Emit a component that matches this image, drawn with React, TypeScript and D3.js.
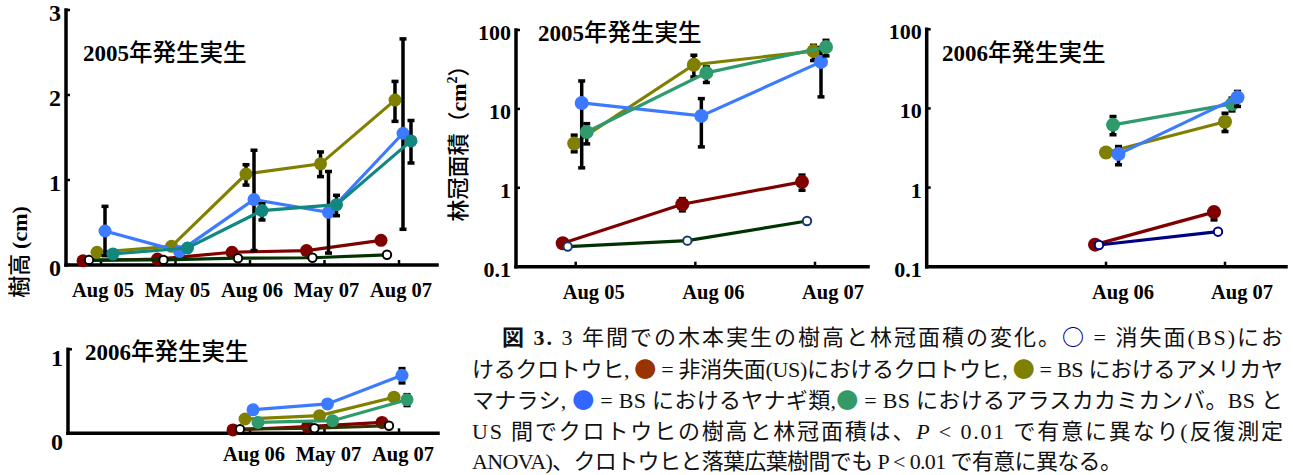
import React from 'react';
import * as d3 from 'd3';

type Val = number | null;

// x categories
const heightDates = ['Aug 05', 'May 05', 'Aug 06', 'May 07', 'Aug 07'];
const heightDates06 = ['Aug 06', 'May 07', 'Aug 07'];
const areaDates = ['Aug 05', 'Aug 06', 'Aug 07'];
const areaDates06 = ['Aug 06', 'Aug 07'];

// tick values
const heightTicks05 = [0, 1, 2, 3];
const heightTicks06 = [0, 1];
const areaTicks = [0.1, 1, 10, 100];

// 2005 cohort, seedling height (cm)
const h05Bs = [0.06, 0.06, 0.08, 0.085, 0.12];
const h05Us = [0.05, 0.07, 0.15, 0.17, 0.29];
const h05Aspen = [0.15, 0.22, 1.07, 1.19, 1.94];
const h05AspenHi: Val[] = [null, null, 1.18, 1.33, 2.16];
const h05AspenLo: Val[] = [null, null, 0.94, 1.04, 1.69];
const h05Willow = [0.4, 0.16, 0.77, 0.62, 1.55];
const h05WillowHi: Val[] = [0.69, null, 1.35, 1.1, 2.66];
const h05WillowLo: Val[] = [0.11, null, 0.17, 0.14, 0.42];
const h05Birch = [0.13, 0.2, 0.64, 0.71, 1.46];
const h05BirchHi: Val[] = [null, null, 0.72, 0.82, 1.7];
const h05BirchLo: Val[] = [null, null, 0.53, 0.58, 1.2];

// 2006 cohort, seedling height (cm)
const h06Bs = [0.05, 0.06, 0.09];
const h06Us = [0.04, 0.08, 0.13];
const h06Aspen = [0.17, 0.21, 0.43];
const h06Willow = [0.28, 0.35, 0.69];
const h06WillowHi: Val[] = [null, null, 0.77];
const h06WillowLo: Val[] = [null, null, 0.6];
const h06Birch = [0.13, 0.15, 0.4];
const h06BirchHi: Val[] = [null, null, 0.46];
const h06BirchLo: Val[] = [null, null, 0.33];

// 2005 cohort, crown area (cm2)
const a05Bs = [0.18, 0.214, 0.38];
const a05Us = [0.198, 0.62, 1.19];
const a05UsHi: Val[] = [null, 0.73, 1.45];
const a05UsLo: Val[] = [null, 0.51, 0.93];
const a05Aspen = [3.65, 36.3, 54];
const a05AspenHi: Val[] = [4.65, 47.9, 64];
const a05AspenLo: Val[] = [2.86, 25.4, 41];
const a05Willow = [11.9, 8.15, 39.4];
const a05WillowHi: Val[] = [22.6, 13.5, 60];
const a05WillowLo: Val[] = [1.79, 3.3, 14.2];
const a05Birch = [5.1, 28.6, 61];
const a05BirchHi: Val[] = [6.5, 34, 74];
const a05BirchLo: Val[] = [3.6, 21.6, 47];

// 2006 cohort, crown area (cm2)
const a06Bs = [0.188, 0.277];
const a06Us = [0.19, 0.49];
const a06UsHi: Val[] = [null, 0.55];
const a06UsLo: Val[] = [null, 0.39];
const a06Aspen = [2.77, 6.8];
const a06AspenHi: Val[] = [null, 8.7];
const a06AspenLo: Val[] = [null, 5.1];
const a06Willow = [2.65, 13.8];
const a06WillowHi: Val[] = [3.3, 16.4];
const a06WillowLo: Val[] = [1.94, 10.6];
const a06Birch = [6.2, 11.4];
const a06BirchHi: Val[] = [7.9, 13.5];
const a06BirchLo: Val[] = [4.65, 9.3];

const serif = "'Liberation Serif', 'Times New Roman', serif";
const jp = "'Noto Sans CJK JP', sans-serif";
const mixed = "'Liberation Serif', 'Noto Sans CJK JP', serif";

const RED = '#800000';
const OLIVE = '#808000';
const BLUE = '#3c7bff';
const TEAL = '#12877f';
const GREEN = '#2f9a6b';

interface Series {
  key: string;
  values: number[];
  hi?: Val[];
  lo?: Val[];
  dx: number;
  color: string;
  line?: string;
  open?: boolean;
}

interface PanelProps {
  dates: string[];
  x: d3.ScalePoint<string>;
  y: (v: number) => number;
  series: Series[];
  r: number;
}

// lines, error bars and markers of one panel
const Marks: React.FC<PanelProps> = ({ dates, x, y, series, r }) => (
  <g>
    {series.map(s => {
      const pts = s.values.map((v, i) => [x(dates[i])! + s.dx, y(v)] as [number, number]);
      const path = d3.line()(pts) || '';
      return (
        <g key={s.key}>
          <path d={path} fill="none" stroke={s.line ?? s.color} strokeWidth={3.2} />
          {s.hi && s.lo && s.values.map((_, i) => {
            const h = s.hi![i], l = s.lo![i];
            if (h == null || l == null) return null;
            const cx = pts[i][0];
            return (
              <g key={i} stroke="#000" strokeWidth={3.5}>
                <line x1={cx} x2={cx} y1={y(h)} y2={y(l)} />
                <line x1={cx - 3.5} x2={cx + 3.5} y1={y(h)} y2={y(h)} />
                <line x1={cx - 3.5} x2={cx + 3.5} y1={y(l)} y2={y(l)} />
              </g>
            );
          })}
          {pts.map(([px, py], i) =>
            s.open ? (
              <circle key={i} cx={px} cy={py} r={4.2} fill="#fff" stroke={s.color} strokeWidth={2} />
            ) : (
              <circle key={i} cx={px} cy={py} r={r} fill={s.color} />
            )
          )}
        </g>
      );
    })}
  </g>
);

interface AxesProps {
  x0: number;
  x1: number;
  yTop: number;
  yBase: number;
  ticks: number[];
  y: (v: number) => number;
  tickFont: number;
  labelDy: number;
  xTicks: number[];
  xLabels: { text: string; x: number }[];
  xLabelY: number;
}

const Axes: React.FC<AxesProps> = ({ x0, x1, yTop, yBase, ticks, y, tickFont, labelDy, xTicks, xLabels, xLabelY }) => (
  <g>
    <line x1={x0} x2={x0} y1={yTop} y2={yBase} stroke="#000" strokeWidth={3.5} strokeLinecap="square" />
    <line x1={x0} x2={x1} y1={yBase} y2={yBase} stroke="#000" strokeWidth={3.5} strokeLinecap="square" />
    {ticks.map(t => (
      <g key={t}>
        <line x1={x0} x2={x0 + 4} y1={y(t)} y2={y(t)} stroke="#000" strokeWidth={2.5} />
        <text x={x0 - 5} y={y(t) + labelDy} textAnchor="end" fontFamily={serif} fontWeight="bold" fontSize={tickFont}>
          {d3.format('~g')(t)}
        </text>
      </g>
    ))}
    {xTicks.map((t, i) => (
      <line key={i} x1={t} x2={t} y1={yBase} y2={yBase - 5} stroke="#000" strokeWidth={2.5} />
    ))}
    {xLabels.map(l => (
      <text key={l.text} x={l.x} y={xLabelY} textAnchor="middle" fontFamily={serif} fontWeight="bold" fontSize={20.5}>
        {l.text}
      </text>
    ))}
  </g>
);

const Title: React.FC<{ x: number; y: number; year: string }> = ({ x, y, year }) => (
  <text x={x} y={y} style={{ whiteSpace: 'pre' }}>
    <tspan fontFamily={serif} fontWeight="bold" fontSize={23}>{year}</tspan>
    <tspan fontFamily={jp} fontWeight={500} fontSize={23.5}>年発生実生</tspan>
  </text>
);

const Dot: React.FC<{ c: string; ch?: string }> = ({ c, ch = '●' }) => (
  <tspan fill={c} fontFamily={jp} fontWeight={ch === '○' ? 'bold' : 'normal'}>{ch}</tspan>
);

export default function App() {
  // top-left: height, 2005 cohort
  const xH = d3.scalePoint<string>().domain(heightDates).range([105, 403]);
  const yH05 = d3.scaleLinear().domain([0, 3]).range([265, 10]);
  const yH06 = d3.scaleLinear().domain([0, 1]).range([433.3, 349.3]);

  // crown area panels
  const xA05 = d3.scalePoint<string>().domain(areaDates).range([575.7, 815]);
  const xA06 = d3.scalePoint<string>().domain(areaDates).range([987, 1225]);
  const yA05 = d3.scaleLog().domain([0.1, 100]).range([266.7, 30]);
  const yA06 = d3.scaleLog().domain([0.1, 100]).range([266.7, 29.3]);

  const h05Series: Series[] = [
    { key: 'us', values: h05Us, dx: -22, color: RED },
    { key: 'bs', values: h05Bs, dx: -16, color: '#000', line: '#003300', open: true },
    { key: 'aspen', values: h05Aspen, hi: h05AspenHi, lo: h05AspenLo, dx: -8, color: OLIVE },
    { key: 'willow', values: h05Willow, hi: h05WillowHi, lo: h05WillowLo, dx: 0, color: BLUE },
    { key: 'birch', values: h05Birch, hi: h05BirchHi, lo: h05BirchLo, dx: 8, color: TEAL },
  ];
  const h06Series: Series[] = [
    { key: 'us', values: h06Us, dx: -21, color: RED },
    { key: 'bs', values: h06Bs, dx: -14, color: '#000', line: '#333300', open: true },
    { key: 'aspen', values: h06Aspen, dx: -9, color: OLIVE },
    { key: 'willow', values: h06Willow, hi: h06WillowHi, lo: h06WillowLo, dx: -1, color: BLUE },
    { key: 'birch', values: h06Birch, hi: h06BirchHi, lo: h06BirchLo, dx: 4, color: GREEN },
  ];
  const a05Series: Series[] = [
    { key: 'us', values: a05Us, hi: a05UsHi, lo: a05UsLo, dx: -13, color: RED },
    { key: 'bs', values: a05Bs, dx: -8, color: '#123a6e', line: '#003300', open: true },
    { key: 'aspen', values: a05Aspen, hi: a05AspenHi, lo: a05AspenLo, dx: -1.5, color: OLIVE },
    { key: 'willow', values: a05Willow, hi: a05WillowHi, lo: a05WillowLo, dx: 6, color: BLUE },
    { key: 'birch', values: a05Birch, hi: a05BirchHi, lo: a05BirchLo, dx: 11, color: GREEN },
  ];
  const a06Series: Series[] = [
    { key: 'us', values: a06Us, hi: a06UsHi, lo: a06UsLo, dx: -11, color: RED },
    { key: 'bs', values: a06Bs, dx: -7, color: '#000080', line: '#000080', open: true },
    { key: 'aspen', values: a06Aspen, hi: a06AspenHi, lo: a06AspenLo, dx: 0, color: OLIVE },
    { key: 'birch', values: a06Birch, hi: a06BirchHi, lo: a06BirchLo, dx: 7, color: GREEN },
    { key: 'willow', values: a06Willow, hi: a06WillowHi, lo: a06WillowLo, dx: 12.5, color: BLUE },
  ];

  return (
    <svg width={1293} height={475} style={{ position: 'absolute', left: 0, top: 0, background: '#fff' }}>
      {/* top-left: tree height, 2005 cohort */}
      <Axes
        x0={66} x1={437} yTop={yH05(3)} yBase={yH05(0)} ticks={heightTicks05} y={yH05}
        tickFont={24} labelDy={11}
        xTicks={heightDates.map(d => xH(d)! - 4)}
        xLabels={heightDates.map(d => ({ text: d, x: xH(d)! - 2 }))}
        xLabelY={297}
      />
      <Marks dates={heightDates} x={xH} y={yH05} series={h05Series} r={6.5} />
      <Title x={83} y={61} year="2005" />
      <text transform="translate(27,252) rotate(-90)" textAnchor="middle" style={{ whiteSpace: 'pre' }}>
        <tspan fontFamily={jp} fontWeight={500} fontSize={22}>樹高 </tspan>
        <tspan fontFamily={serif} fontWeight="bold" fontSize={22}>(cm)</tspan>
      </text>

      {/* bottom-left: tree height, 2006 cohort */}
      <Axes
        x0={68} x1={438} yTop={yH06(1)} yBase={yH06(0)} ticks={heightTicks06} y={yH06}
        tickFont={24} labelDy={17}
        xTicks={heightDates06.map(d => xH(d)! - 4)}
        xLabels={heightDates06.map(d => ({ text: d, x: xH(d)! }))}
        xLabelY={461}
      />
      <Marks dates={heightDates06} x={xH} y={yH06} series={h06Series} r={6.5} />
      <Title x={85} y={360} year="2006" />

      {/* middle: crown area, 2005 cohort */}
      <Axes
        x0={516} x1={868} yTop={yA05(100)} yBase={yA05(0.1)} ticks={areaTicks} y={yA05}
        tickFont={22} labelDy={10}
        xTicks={areaDates.map(d => xA05(d)!)}
        xLabels={areaDates.map(d => ({ text: d, x: xA05(d)! + 18 }))}
        xLabelY={299}
      />
      <Marks dates={areaDates} x={xA05} y={yA05} series={a05Series} r={7} />
      <Title x={538} y={41} year="2005" />
      <text transform="translate(466,138) rotate(-90)" textAnchor="middle">
        <tspan fontFamily={jp} fontWeight={500} fontSize={22}>林冠面積（</tspan>
        <tspan fontFamily={serif} fontWeight="bold" fontSize={22}>cm</tspan>
        <tspan fontFamily={serif} fontWeight="bold" fontSize={14} dy={-9}>2</tspan>
        <tspan fontFamily={jp} fontWeight={500} fontSize={22} dy={9}>）</tspan>
      </text>

      {/* right: crown area, 2006 cohort */}
      <Axes
        x0={926.7} x1={1286} yTop={yA06(100)} yBase={yA06(0.1)} ticks={areaTicks} y={yA06}
        tickFont={22} labelDy={10}
        xTicks={areaDates06.map(d => xA06(d)!)}
        xLabels={areaDates06.map(d => ({ text: d, x: xA06(d)! + 17 }))}
        xLabelY={299}
      />
      <Marks dates={areaDates06} x={xA06} y={yA06} series={a06Series} r={7} />
      <Title x={942} y={61} year="2006" />

      {/* caption */}
      <g fontFamily={mixed} fontSize={22} fill="#111" style={{ whiteSpace: 'pre' }}>
        <text x={502} y={345} textLength={781} lengthAdjust="spacing">
          <tspan fontWeight="bold">図 3.</tspan>
          {'  3 年間での木本実生の樹高と林冠面積の変化。'}
          <Dot c="#000080" ch="○" />
          {' = 消失面(BS)にお'}
        </text>
        <text x={472} y={377} textLength={811} lengthAdjust="spacing">
          {'けるクロトウヒ, '}
          <Dot c="#993300" />
          {' = 非消失面(US)におけるクロトウヒ, '}
          <Dot c="#808000" />
          {' = BS におけるアメリカヤ'}
        </text>
        <text x={472} y={408} textLength={811} lengthAdjust="spacing">
          {'マナラシ, '}
          <Dot c="#3366ff" />
          {' = BS におけるヤナギ類,'}
          <Dot c="#339966" />
          {' = BS におけるアラスカカミカンバ。BS と'}
        </text>
        <text x={472} y={439} textLength={811} lengthAdjust="spacing">
          {'US 間でクロトウヒの樹高と林冠面積は、'}
          <tspan fontStyle="italic">P</tspan>
          {' < 0.01 で有意に異なり(反復測定'}
        </text>
        <text x={472} y={469} textLength={650} lengthAdjust="spacing">
          {'ANOVA)、クロトウヒと落葉広葉樹間でも P < 0.01 で有意に異なる。'}
        </text>
      </g>
    </svg>
  );
}
